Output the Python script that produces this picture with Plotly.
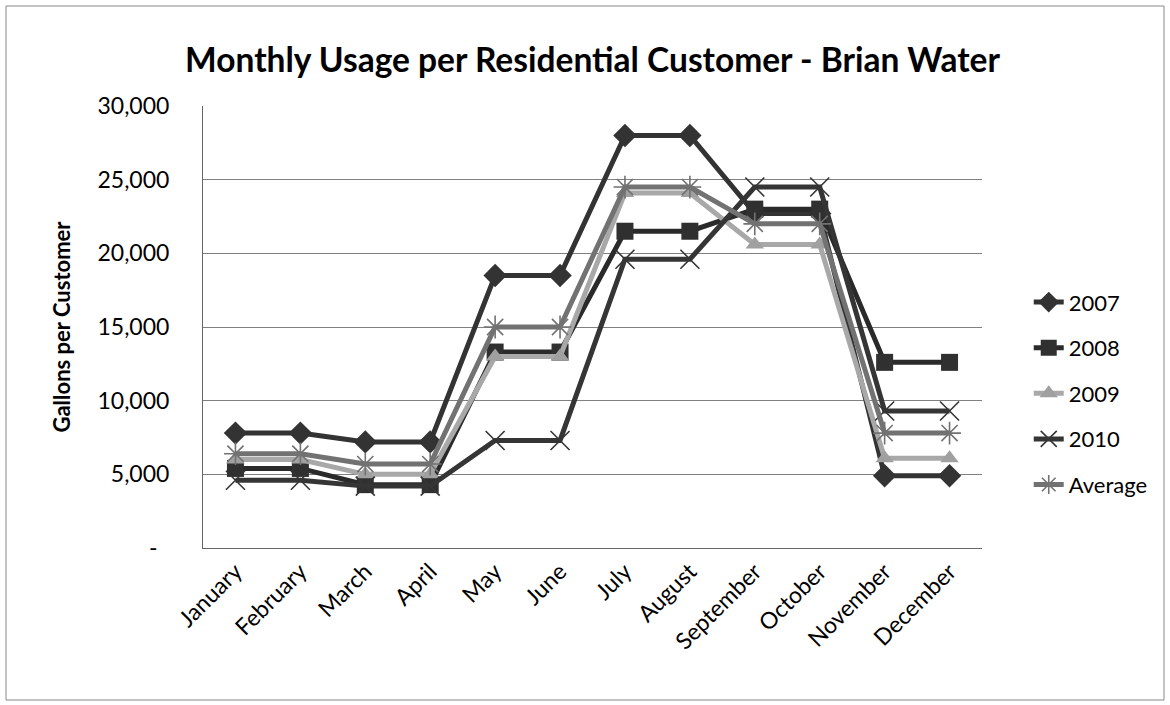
import plotly.graph_objects as go

months = ["January", "February", "March", "April", "May", "June", "July",
          "August", "September", "October", "November", "December"]
y2007 = [7800, 7800, 7200, 7200, 18500, 18500, 28000, 28000, 22700, 22700, 4900, 4900]
y2008 = [5400, 5400, 4300, 4300, 13300, 13300, 21500, 21500, 23000, 23000, 12600, 12600]
y2009 = [6000, 6000, 5000, 5000, 13000, 13000, 24100, 24100, 20600, 20600, 6100, 6100]
y2010 = [4600, 4600, 4200, 4200, 7300, 7300, 19600, 19600, 24500, 24500, 9300, 9300]
yavg = [6400, 6400, 5700, 5700, 15000, 15000, 24500, 24500, 22000, 22000, 7800, 7800]

tick_vals = [0, 5000, 10000, 15000, 20000, 25000, 30000]
tick_text = ["-\u00a0\u00a0", "5,000", "10,000", "15,000", "20,000", "25,000", "30,000"]

FONT = "Lato"

series = [
    ("2007", y2007, "#333333", dict(symbol="diamond", size=18, color="#333333",
                                     line=dict(width=0))),
    ("2008", y2008, "#2a2a2a", dict(symbol="square", size=17, color="#303030",
                                     line=dict(width=0))),
    ("2009", y2009, "#a8a8a8", dict(symbol="triangle-up", size=16, color="#a0a0a0",
                                     line=dict(width=0))),
    ("2010", y2010, "#353535", dict(symbol="x-thin-open", size=19,
                                     line=dict(width=1.6, color="#222222"))),
    ("Average", yavg, "#727272", dict(symbol="asterisk-open", size=19,
                                       line=dict(width=1.6, color="#555555"))),
]

fig = go.Figure()
for i, (name, vals, col, mk) in enumerate(series):
    fig.add_trace(go.Scatter(
        x=months, y=vals, name=name, mode="lines+markers",
        line=dict(color=col, width=5),
        marker=mk, legendgroup=f"g{i}",
    ))

fig.update_layout(
    width=1170, height=705,
    margin=dict(l=203, r=188, t=106, b=157),
    paper_bgcolor="white", plot_bgcolor="white",
    font=dict(family=FONT, color="#000000"),
    title=dict(text="<b>Monthly Usage per Residential Customer - Brian Water</b>",
               x=0.5, xanchor="center", xref="paper", y=0.915, yanchor="middle",
               font=dict(size=33.5, family=FONT, color="#000000")),
    legend=dict(x=1.06, xanchor="left", y=0.35, yanchor="middle",
                font=dict(size=22, family=FONT), tracegroupgap=14,
                bgcolor="rgba(0,0,0,0)"),
    showlegend=True,
)
fig.update_xaxes(
    type="category", tickangle=-45, tickfont=dict(size=23, family=FONT),
    showgrid=False, showline=True, linecolor="#666666", linewidth=1,
    ticks="", range=[-0.5, 11.5],
)
fig.update_yaxes(
    range=[0, 30000], tickvals=tick_vals, ticktext=tick_text,
    tickfont=dict(size=23, family=FONT), showgrid=True, gridcolor="#808080",
    gridwidth=1, showline=True, linecolor="#666666", linewidth=1,
    ticklabelstandoff=28, zeroline=False,
    title=dict(text="<b>Gallons per Customer</b>", font=dict(size=22, family=FONT),
               standoff=20),
)
# outer chart border
fig.add_shape(type="rect", xref="paper", yref="paper",
              x0=(6 - 203) / 779, x1=(1164 - 203) / 779,
              y0=(548 - 700) / 442, y1=(548 - 6) / 442,
              line=dict(color="#888888", width=1), layer="below")

fig.write_html("out.html")
